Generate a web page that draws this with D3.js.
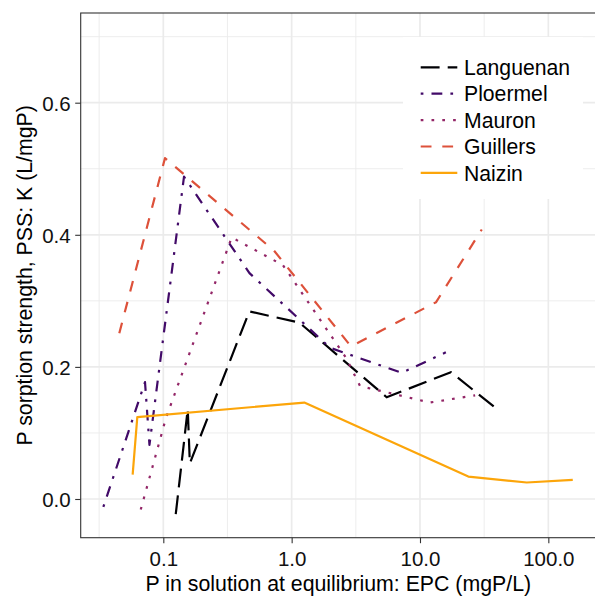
<!DOCTYPE html>
<html>
<head>
<meta charset="utf-8">
<script src="https://cdn.jsdelivr.net/npm/d3@7/dist/d3.min.js"></script>
<style>
  html, body { margin: 0; padding: 0; background: #fff; }
  svg { display: block; font-family: "Liberation Sans", Arial, sans-serif; }
</style>
</head>
<body>
<svg id="chart" width="595" height="599"></svg>
<script>
// ---- data ----
const seriesNames = ["Languenan", "Ploermel", "Mauron", "Guillers", "Naizin"];
const seriesColors = ["#000004", "#420A68", "#932667", "#DD513A", "#FCA50A"];

const languenanX = [0.125, 0.155, 0.161, 0.468, 1.15, 5.5, 17.4, 38.8];
const languenanY = [-0.023, 0.136, 0.054, 0.284, 0.267, 0.154, 0.192, 0.138];

const ploermelX = [0.0341, 0.072, 0.078, 0.145, 0.469, 1.99, 7.2, 15.9];
const ploermelY = [-0.012, 0.177, 0.082, 0.488, 0.342, 0.229, 0.191, 0.222];

const mauronX = [0.0667, 0.105, 0.341, 0.856, 2.65, 3.41, 11.96, 26.9];
const mauronY = [-0.016, 0.123, 0.396, 0.354, 0.214, 0.171, 0.146, 0.157];

const guillersX = [0.0454, 0.103, 0.729, 2.9, 13.35, 30.3];
const guillersY = [0.251, 0.516, 0.376, 0.231, 0.298, 0.408];

const naizinX = [0.0577, 0.0627, 1.255, 23.8, 67.9, 155];
const naizinY = [0.037, 0.124, 0.146, 0.034, 0.025, 0.029];

const xTickValues = [0.1, 1, 10, 100];
const xTickLabels = ["0.1", "1.0", "10.0", "100.0"];
const yTickValues = [0, 0.2, 0.4, 0.6];
const yTickLabels = ["0.0", "0.2", "0.4", "0.6"];
const xMinorValues = [Math.pow(10, -1.5), Math.pow(10, -0.5), Math.pow(10, 0.5), Math.pow(10, 1.5)];
const yMinorValues = [0.1, 0.3, 0.5, 0.7];

const xTitle = "P in solution at equilibrium: EPC (mgP/L)";
const yTitle = "P sorption strength, PSS: K (L/mgP)";

// ---- layout ----
const panel = { left: 80.7, right: 598, top: 13, bottom: 537.7 };
const dashScale = 2.7;
const lineTypes = [
  [7, 3],        // longdash
  [1, 3, 4, 3],  // dotdash
  [1, 3],        // dotted
  [4, 4],        // dashed
  null           // solid
].map(p => p ? p.map(v => v * dashScale).join(",") : null);

const seriesX = [languenanX, ploermelX, mauronX, guillersX, naizinX];
const seriesY = [languenanY, ploermelY, mauronY, guillersY, naizinY];
const series = seriesNames.map((name, i) => ({
  name, color: seriesColors[i], dash: lineTypes[i],
  values: seriesX[i].map((x, j) => ({ x, y: seriesY[i][j] }))
}));

const svg = d3.select("#chart");
svg.append("rect").attr("width", 595).attr("height", 599).attr("fill", "#fff");

const x = d3.scaleLog()
  .domain([Math.pow(10, -1.6437), Math.pow(10, 2.387)])
  .range([panel.left, panel.right]);
const y = d3.scaleLinear()
  .domain([-0.0586, 0.7358])
  .range([panel.bottom, panel.top]);

// grid
const grid = svg.append("g");
grid.selectAll("line.xminor").data(xMinorValues).enter().append("line")
  .attr("x1", d => x(d)).attr("x2", d => x(d))
  .attr("y1", panel.top).attr("y2", panel.bottom)
  .attr("stroke", "#ebebeb").attr("stroke-width", 0.9);
grid.selectAll("line.yminor").data(yMinorValues).enter().append("line")
  .attr("x1", panel.left).attr("x2", panel.right)
  .attr("y1", d => y(d)).attr("y2", d => y(d))
  .attr("stroke", "#ebebeb").attr("stroke-width", 0.9);
grid.selectAll("line.xmajor").data(xTickValues).enter().append("line")
  .attr("x1", d => x(d)).attr("x2", d => x(d))
  .attr("y1", panel.top).attr("y2", panel.bottom)
  .attr("stroke", "#ebebeb").attr("stroke-width", 1.7);
grid.selectAll("line.ymajor").data(yTickValues).enter().append("line")
  .attr("x1", panel.left).attr("x2", panel.right)
  .attr("y1", d => y(d)).attr("y2", d => y(d))
  .attr("stroke", "#ebebeb").attr("stroke-width", 1.7);

// lines
const clip = svg.append("clipPath").attr("id", "clip")
  .append("rect").attr("x", panel.left).attr("y", panel.top)
  .attr("width", panel.right - panel.left).attr("height", panel.bottom - panel.top);

const line = d3.line().x(d => x(d.x)).y(d => y(d.y));
const lines = svg.append("g").attr("clip-path", "url(#clip)");
series.forEach(s => {
  lines.append("path")
    .attr("d", line(s.values))
    .attr("fill", "none")
    .attr("stroke", s.color)
    .attr("stroke-width", 2.2)
    .attr("stroke-linejoin", "round")
    .attr("stroke-linecap", "butt")
    .attr("stroke-dasharray", s.dash);
});

// legend (inside panel, white background)
const legend = svg.append("g");
legend.append("rect").attr("x", 403).attr("y", 37).attr("width", 180).attr("height", 162).attr("fill", "#fff");
series.forEach((s, i) => {
  const ky = 67.3 + i * 26.4;
  legend.append("line")
    .attr("x1", 420.7).attr("x2", 457.3).attr("y1", ky).attr("y2", ky)
    .attr("stroke", s.color).attr("stroke-width", 2.2)
    .attr("stroke-linecap", "butt")
    .attr("stroke-dasharray", s.dash);
  legend.append("text")
    .attr("x", 464).attr("y", ky + 7.6)
    .attr("font-size", 21.2).attr("fill", "#000")
    .text(s.name);
});

// panel border
svg.append("rect")
  .attr("x", panel.left).attr("y", panel.top)
  .attr("width", panel.right - panel.left).attr("height", panel.bottom - panel.top)
  .attr("fill", "none").attr("stroke", "#333").attr("stroke-width", 1.1);

// axes
const xAxis = d3.axisBottom(x).tickValues(xTickValues)
  .tickFormat((d, i) => xTickLabels[i]).tickSize(5.5).tickPadding(4);
const xg = svg.append("g").attr("transform", `translate(0,${panel.bottom})`).call(xAxis);
xg.select(".domain").remove();
xg.selectAll(".tick line").attr("stroke", "#333").attr("stroke-width", 1.1);
xg.selectAll(".tick text").attr("font-size", 20.5).attr("fill", "#111")
  .attr("font-family", "Liberation Sans, Arial, sans-serif")
  .attr("dy", null).attr("y", 28.3);

const yAxis = d3.axisLeft(y).tickValues(yTickValues)
  .tickFormat((d, i) => yTickLabels[i]).tickSize(5.5).tickPadding(4.5);
const yg = svg.append("g").attr("transform", `translate(${panel.left},0)`).call(yAxis);
yg.select(".domain").remove();
yg.selectAll(".tick line").attr("stroke", "#333").attr("stroke-width", 1.1);
yg.selectAll(".tick text").attr("font-size", 20.5).attr("fill", "#111")
  .attr("font-family", "Liberation Sans, Arial, sans-serif")
  .attr("dy", "0.36em");

// titles
svg.append("text")
  .attr("x", (panel.left + panel.right) / 2 - 1).attr("y", 591)
  .attr("text-anchor", "middle").attr("font-size", 21.3).attr("fill", "#000")
  .text(xTitle);
svg.append("text")
  .attr("transform", `translate(31.5,${(panel.top + panel.bottom) / 2}) rotate(-90)`)
  .attr("text-anchor", "middle").attr("font-size", 21.3).attr("fill", "#000")
  .text(yTitle);
</script>
</body>
</html>
